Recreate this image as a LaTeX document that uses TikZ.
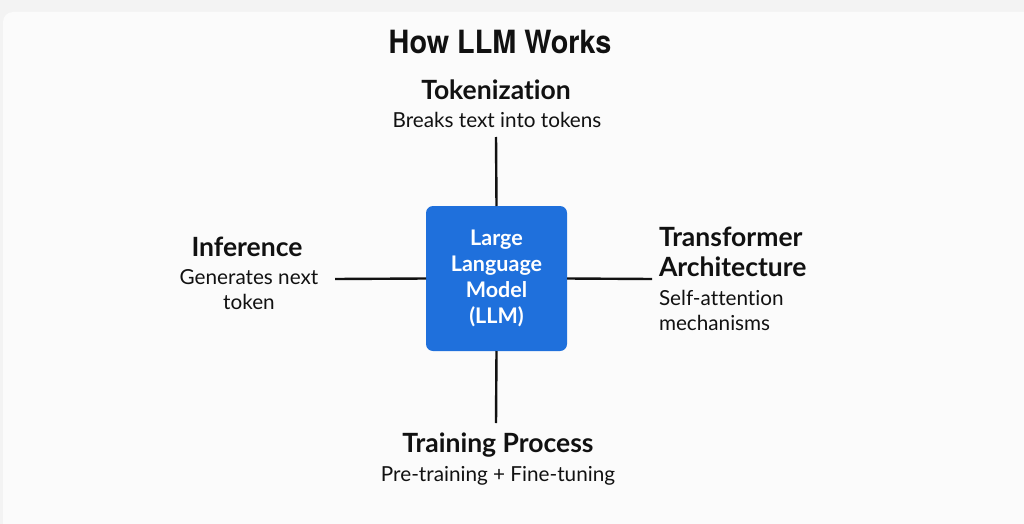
\documentclass[tikz,border=0pt]{standalone}
\usepackage{fontspec}
\setmainfont{Lato}[Ligatures=NoCommon]
\newfontfamily\titlefont[FakeStretch=0.9]{TeX Gyre Heros}
\usepackage{xcolor}
\usepackage{tikz}
\usetikzlibrary{positioning}
\definecolor{pagebg}{HTML}{F3F3F3}
\definecolor{cardbg}{HTML}{FBFBFB}
\definecolor{llmblue}{HTML}{1F70DC}
\definecolor{inkmain}{HTML}{111111}
\tikzset{
  every node/.append style={inner sep=0pt,outer sep=0pt,text=inkmain},
  titletext/.style={font=\titlefont\bfseries\fontsize{32}{36}\selectfont},
  headtext/.style={font=\bfseries\fontsize{26.5}{30}\selectfont},
  subtext/.style={font=\fontsize{20.7}{25}\selectfont},
  corebox/.style={fill=llmblue,rounded corners=7pt,minimum width=141pt,minimum height=145pt,
    text=white,align=center,font=\bfseries\fontsize{21.5}{26}\selectfont},
  link/.style={draw=inkmain,line width=2.4pt}
}
\begin{document}
\begin{tikzpicture}[x=1pt,y=-1pt]
\useasboundingbox (0,0) rectangle (1024,524);
\fill[pagebg] (0,0) rectangle (1024,524);
\fill[cardbg,rounded corners=10pt] (3,12) rectangle (1034,534);
\node[titletext] (ttl) at (500,42) {How LLM Works};
\node[corebox] (llm) at (496.5,278.5) {Large\\Language\\Model\\(LLM)};
\node[headtext] (tokhd) at (496,90) {Tokenization};
\node[subtext] (toksub) at (497,120) {Breaks text into tokens};
\node[headtext] (trnhd) at (498,445) {Training Process};
\node[subtext] (trnsub) at (498,476) {Pre-training + Fine-tuning};
\node[headtext] (infhd) at (247,247) {Inference};
\node[subtext,align=center] (infsub) at (249,290) {Generates next\\token};
\node[headtext,align=left,anchor=west] (tfhd) at (659,252) {Transformer\\Architecture};
\node[subtext,align=left,anchor=west] (tfsub) at (659,310) {Self-attention\\mechanisms};
\coordinate (tokend) at (496,137);
\coordinate (trnend) at (496,423);
\coordinate (infend) at (335,279);
\coordinate (tfend) at (652,279);
\draw[link] (tokend) -- (llm.north);
\draw[link] (llm.south) -- (trnend);
\draw[link] (infend) -- (llm.west);
\draw[link] (llm.east) -- (tfend);
\end{tikzpicture}
\end{document}
